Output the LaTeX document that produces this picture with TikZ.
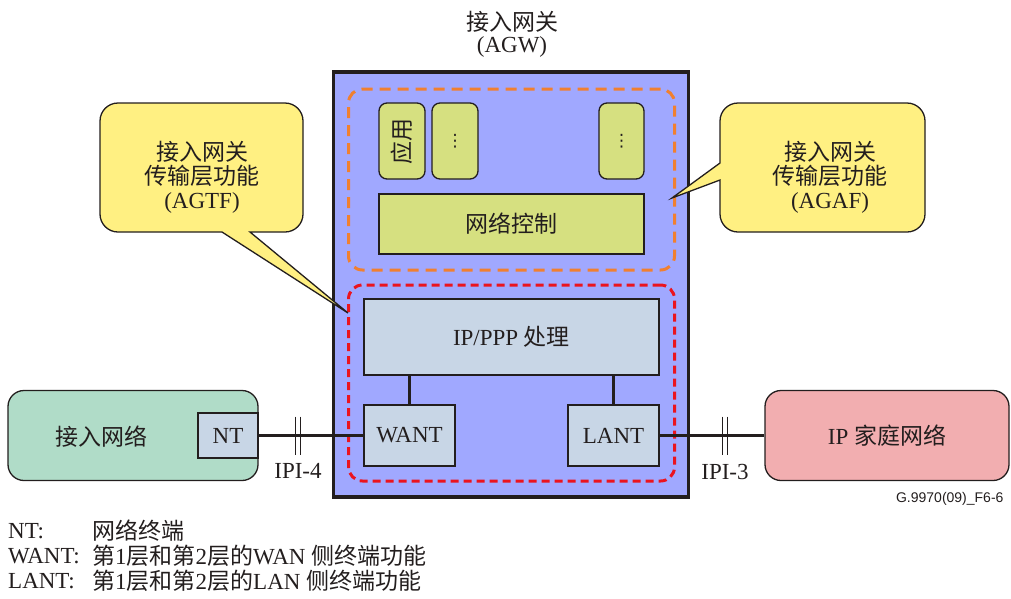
\documentclass[tikz,border=0pt]{standalone}
\usepackage{fontspec}
\setmainfont{Liberation Serif}
\newfontfamily\cjk[Scale=1.0]{Noto Sans CJK SC}
\newfontfamily\labsans{Liberation Sans}
\newfontfamily\dejavu{DejaVu Sans}
\definecolor{agwblue}{RGB}{160,168,255}
\definecolor{dashor}{RGB}{240,128,48}
\definecolor{dashred}{RGB}{235,20,30}
\definecolor{ygreen}{RGB}{214,224,128}
\definecolor{lblue}{RGB}{200,214,230}
\definecolor{mint}{RGB}{176,220,200}
\definecolor{pinkc}{RGB}{242,174,176}
\definecolor{callyel}{RGB}{255,240,130}
\definecolor{darkln}{RGB}{35,30,30}
\begin{document}
\begin{tikzpicture}[x=1pt,y=-1pt,
  txt/.style={font=\fontsize{23}{27}\selectfont, text=darkln},
  box/.style={draw=darkln, line width=1.3pt, inner sep=0pt, txt},
  appbox/.style={box, fill=ygreen, rounded corners=8pt, minimum width=46pt, minimum height=76pt},
  lbbox/.style={box, fill=lblue},
  conn/.style={draw=darkln, line width=3pt},
  tickln/.style={draw=darkln, line width=1.1pt},
  callout/.style={draw=darkln, line width=1.3pt, fill=callyel},
  dotsfont/.style={font=\dejavu\fontsize{17}{17}\selectfont},
  legend/.style={txt, anchor=west, inner sep=0pt}]
\useasboundingbox (0,0) rectangle (1011,598);
% title
\node[txt] (t1) at (512,22) {\cjk 接入网关};
\node[txt] (t2) at (512,47) {(AGW)};
% AGW box
\node[draw=darkln, line width=3.5pt, fill=agwblue, minimum width=355pt, minimum height=425pt, inner sep=0pt] (agw) at (511,284.5) {};
% dashed groups
\node[draw=dashor, line width=3pt, dash pattern=on 11pt off 7pt, rounded corners=14pt, minimum width=326pt, minimum height=181pt, inner sep=0pt] (agafgrp) at (511.5,179.5) {};
\node[draw=dashred, line width=3pt, dash pattern=on 8pt off 5pt, rounded corners=14pt, minimum width=326pt, minimum height=196pt, inner sep=0pt] (agtfgrp) at (511.5,383) {};
% application boxes
\node[appbox] (app1) at (402,141) {\rotatebox{90}{\cjk 应用}};
\node[appbox, dotsfont] (app2) at (455,141) {⋮};
\node[appbox, dotsfont, minimum width=45pt] (app3) at (621.5,141) {⋮};
\node[box, fill=ygreen, minimum width=265pt, minimum height=60pt] (netctl) at (511.5,224) {\cjk 网络控制};
% transport
\node[lbbox, minimum width=295pt, minimum height=76pt] (ipppp) at (511.5,337) {IP/PPP {\cjk 处理}};
\node[lbbox, minimum width=91pt, minimum height=61pt] (want) at (409.5,435.5) {WANT};
\node[lbbox, minimum width=91pt, minimum height=61pt] (lant) at (613.5,435.5) {LANT};
\draw[conn] (want.north) -- (want.north |- ipppp.south);
\draw[conn] (lant.north) -- (lant.north |- ipppp.south);
% access network
\node[box, fill=mint, rounded corners=16pt, minimum width=250pt, minimum height=90pt] (access) at (133,435.5) {};
\node[txt] (accesstxt) at (101,437) {\cjk 接入网络};
\node[lbbox, minimum width=60pt, minimum height=45pt] (nt) at (228,435.5) {NT};
% home network
\node[box, fill=pinkc, rounded corners=16pt, minimum width=244pt, minimum height=90pt] (home) at (887,435.5) {IP {\cjk 家庭网络}};
% connectors
\draw[conn] (nt.east) -- (want.west);
\draw[conn] (lant.east) -- (home.west);
% IPI ticks
\coordinate (ipi4) at (298,435.5);
\coordinate (ipi3) at (725,435.5);
\foreach \c in {ipi4,ipi3}{
  \draw[tickln] ([xshift=-2.2pt,yshift=19pt]\c) -- ([xshift=-2.2pt,yshift=-19pt]\c);
  \draw[tickln] ([xshift=2.2pt,yshift=19pt]\c) -- ([xshift=2.2pt,yshift=-19pt]\c);
}
\node[txt] (ipi4l) at (298,471) {IPI-4};
\node[txt] (ipi3l) at (725,472) {IPI-3};
% callouts
\draw[callout] (348,313) -- (250,232) [rounded corners=18pt] -- (303,232) -- (303,103) -- (100,103) -- (100,232) [sharp corners] -- (222,232) -- cycle;
\node[txt, align=center] (agtf) at (202,177) {{\cjk 接入网关}\\[-3pt]{\cjk 传输层功能}\\[-3pt](AGTF)};
\draw[callout] (672,198) -- (720,180) [rounded corners=18pt] -- (720,232) -- (925,232) -- (925,103) -- (720,103) [sharp corners] -- (720,163) -- cycle;
\node[txt, align=center] (agaf) at (830,177) {{\cjk 接入网关}\\[-3pt]{\cjk 传输层功能}\\[-3pt](AGAF)};
% figure id
\node[font=\labsans\fontsize{14}{14}\selectfont, text=darkln, anchor=east] (figid) at (1007,499) {G.9970(09)\_F6-6};
% legend
\node[legend] (l1a) at (8,531) {NT:};
\node[legend] (l1b) at (92,531) {\cjk 网络终端};
\node[legend] (l2a) at (8,556) {WANT:};
\node[legend] (l2b) at (92,556) {{\cjk 第}1{\cjk 层和第}2{\cjk 层的}WAN {\cjk 侧终端功能}};
\node[legend] (l3a) at (8,581) {LANT:};
\node[legend] (l3b) at (92,581) {{\cjk 第}1{\cjk 层和第}2{\cjk 层的}LAN {\cjk 侧终端功能}};
\end{tikzpicture}
\end{document}
